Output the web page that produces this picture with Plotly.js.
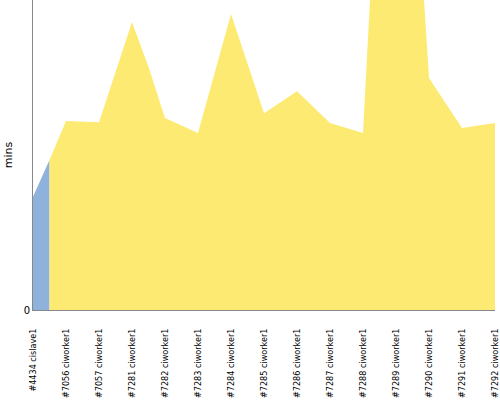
<!DOCTYPE html>
<html>
<head>
<meta charset="utf-8">
<script src="https://cdn.plot.ly/plotly-3.0.1.min.js"></script>
<style>html,body{margin:0;padding:0;background:#fff;}#chart{width:500px;height:400px;}</style>
</head>
<body>
<div id="chart"></div>
<script>
const categories = ["#4434 cislave1","#7056 ciworker1","#7057 ciworker1","#7281 ciworker1","#7282 ciworker1","#7283 ciworker1","#7284 ciworker1","#7285 ciworker1","#7286 ciworker1","#7287 ciworker1","#7288 ciworker1","#7289 ciworker1","#7290 ciworker1","#7291 ciworker1","#7292 ciworker1"];
const slaveX = [0, 0.5];
const slaveMins = [36.5, 48.4];
const workerX = [0.5, 1, 2, 3, 3.5, 4, 5, 6, 7, 8, 9, 10, 10.5, 11, 11.5, 12, 12.5, 13, 14];
const workerMins = [48.4, 61.0, 60.6, 92.9, 78.4, 61.9, 57.1, 95.5, 63.5, 70.6, 60.3, 57.1, 158, 164, 158, 74.8, 66.8, 58.7, 60.3];

const tickPositions = categories.map((c, i) => i);

const traces = [
  {x: slaveX, y: slaveMins, type: 'scatter', mode: 'lines', fill: 'tozeroy',
   fillcolor: '#8eb2dc', line: {width: 0, color: '#8eb2dc'}, hoverinfo: 'skip'},
  {x: workerX, y: workerMins, type: 'scatter', mode: 'lines', fill: 'tozeroy',
   fillcolor: '#fdea72', line: {width: 0, color: '#fdea72'}, hoverinfo: 'skip'}
];

const layout = {
  width: 500, height: 400,
  margin: {l: 33, r: 5, t: 0, b: 90},
  paper_bgcolor: '#fff', plot_bgcolor: '#fff',
  showlegend: false,
  font: {family: 'DejaVu Sans, sans-serif', size: 10, color: '#000'},
  xaxis: {
    range: [0, 14], tickmode: 'array', tickvals: tickPositions, ticktext: categories,
    tickangle: -90, showgrid: false, zeroline: false, showline: true, linecolor: '#888', linewidth: 1,
    ticks: 'outside', ticklen: 14, tickcolor: 'rgba(0,0,0,0)',
    tickfont: {family: 'DejaVu Sans Condensed, DejaVu Sans, sans-serif', size: 9, color: '#000'}
  },
  yaxis: {
    range: [0, 100], tickmode: 'array', tickvals: [0], ticktext: ['0'],
    showgrid: false, zeroline: false, showline: true, linecolor: '#888', linewidth: 1,
    ticks: '', tickfont: {size: 10, color: '#000'},
    title: {text: 'mins', font: {size: 11, color: '#000'}, standoff: 8}
  }
};

Plotly.newPlot('chart', traces, layout, {staticPlot: true, displayModeBar: false});
</script>
</body>
</html>
